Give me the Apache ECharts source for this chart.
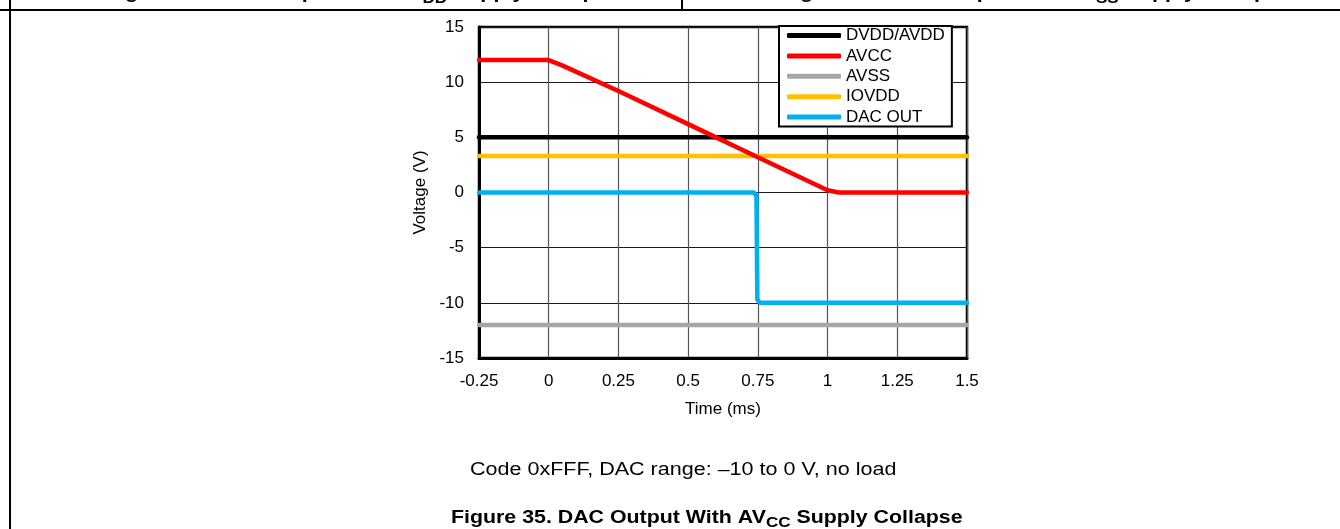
<!DOCTYPE html>
<html><head><meta charset="utf-8">
<script src="https://cdn.jsdelivr.net/npm/echarts@6/dist/echarts.min.js"></script>
<style>html,body{margin:0;padding:0;background:#fff;overflow:hidden}#c{width:1340px;height:529px}</style>
</head><body><div id="c"></div>
<script>
// ---- data ----
const seriesNames = ['DVDD/AVDD', 'AVCC', 'AVSS', 'IOVDD', 'DAC OUT'];
const seriesColors = ['#000000', '#ff0000', '#a6a6a6', '#ffc000', '#00b0f0'];
const dvddTime = [-0.25, 1.5];
const dvddVolt = [5, 5];
const avccTime = [-0.25, 0, 0.05, 0.25, 0.5, 0.75, 1.0, 1.04, 1.5];
const avccVolt = [12, 12, 11.5, 9.2, 6.2, 3.2, 0.2, 0, 0];
const avssTime = [-0.25, 1.5];
const avssVolt = [-12, -12];
const iovddTime = [-0.25, 1.5];
const iovddVolt = [3.3, 3.3];
const dacTime = [-0.25, 0.735, 0.745, 0.748, 0.758, 1.5];
const dacVolt = [0, 0, -0.3, -9.7, -10, -10];
const xTickLabels = ['-0.25', '0', '0.25', '0.5', '0.75', '1', '1.25', '1.5'];
const yTickLabels = ['-15', '-10', '-5', '0', '5', '10', '15'];
const xAxisTitle = 'Time (ms)';
const yAxisTitle = 'Voltage (V)';
const noteText = 'Code 0xFFF, DAC range: \u201310 to 0 V, no load';
const captionParts = ['Figure 35. DAC Output With AV', 'CC', ' Supply Collapse'];
const prevCaptionLeft = ['Figure 33. DAC Output With DV', 'DD', ' Supply Collapse'];
const prevCaptionRight = ['Figure 34. DAC Output With AV', 'SS', ' Supply Collapse'];

// ---- helpers ----
const FAM = 'Arial, "Liberation Sans", sans-serif';
const mctx = document.createElement('canvas').getContext('2d');
function tw(s, size, weight) { mctx.font = (weight || 'normal') + ' ' + size + 'px ' + FAM; return mctx.measureText(s).width; }
function txt(x, baseline, s, size, weight, sx) {
  return { type: 'text', x: x, y: baseline - 0.31 * size, scaleX: sx || 1, silent: true,
    style: { text: s, fontSize: size, fontWeight: weight || 'normal', fontFamily: FAM, fill: '#000', align: 'left', verticalAlign: 'middle' } };
}
function subCaption(x, baseline, parts, size, subSize, drop, sx) {
  const w0 = tw(parts[0], size, 'bold') * sx;
  const w1 = tw(parts[1], subSize, 'bold') * sx;
  return [
    txt(x, baseline, parts[0], size, 'bold', sx),
    txt(x + w0, baseline + drop, parts[1], subSize, 'bold', sx),
    txt(x + w0 + w1, baseline, parts[2], size, 'bold', sx)
  ];
}
function zipPts(t, v) { return t.map((x, i) => [x, v[i]]); }
const seriesData = [zipPts(dvddTime, dvddVolt), zipPts(avccTime, avccVolt), zipPts(avssTime, avssVolt), zipPts(iovddTime, iovddVolt), zipPts(dacTime, dacVolt)];
const xMin = -0.25, xMax = 1.5, xStep = 0.25;
const yMin = -15, yMax = 15, yStep = 5;

const chart = echarts.init(document.getElementById('c'), null, { renderer: 'canvas' });
const capScale = 1.22;
const graphics = [
  { type: 'line', silent: true, shape: { x1: 0, y1: 10, x2: 1340, y2: 10 }, style: { stroke: '#000', lineWidth: 2 } },
  { type: 'line', silent: true, shape: { x1: 10, y1: 0, x2: 10, y2: 529 }, style: { stroke: '#000', lineWidth: 2 } },
  { type: 'line', silent: true, shape: { x1: 682, y1: 0, x2: 682, y2: 10 }, style: { stroke: '#000', lineWidth: 2 } },
  txt(470, 476, noteText, 17.5, 'normal', 1.23)
].concat(subCaption(451, 523.5, captionParts, 17.5, 14, 4, capScale))
 .concat(subCaption(106, -1, prevCaptionLeft, 17.5, 14, 4, capScale))
 .concat(subCaption(781, -1, prevCaptionRight, 17.5, 14, 4, capScale));

chart.setOption({
  animation: false,
  backgroundColor: '#fff',
  grid: { left: 479, top: 27, width: 488, height: 331, show: true, borderColor: '#000', borderWidth: 2.5, backgroundColor: 'transparent' },
  legend: {
    data: seriesNames, orient: 'vertical', left: 779, top: 26,
    padding: [1, 7, 1, 8], itemWidth: 54, itemHeight: 5, itemGap: 3.4,
    icon: 'roundRect',
    borderColor: '#000', borderWidth: 2, backgroundColor: '#fff',
    textStyle: { fontSize: 17, color: '#000', fontFamily: FAM },
    z: 10
  },
  xAxis: {
    type: 'value', min: xMin, max: xMax, interval: xStep,
    name: xAxisTitle, nameLocation: 'middle', nameGap: 43,
    nameTextStyle: { fontSize: 17, color: '#000', fontFamily: FAM },
    axisLine: { onZero: false, lineStyle: { color: '#000', width: 3 } },
    axisTick: { show: false },
    axisLabel: { margin: 15, fontSize: 17, color: '#000', fontFamily: FAM,
      formatter: v => xTickLabels[Math.round((v - xMin) / xStep)] },
    splitLine: { show: true, lineStyle: { color: '#555', width: 1.2 } }
  },
  yAxis: {
    type: 'value', min: yMin, max: yMax, interval: yStep,
    name: yAxisTitle, nameLocation: 'middle', nameGap: 50, nameRotate: 90,
    nameTextStyle: { fontSize: 17, color: '#000', fontFamily: FAM },
    axisLine: { onZero: false, lineStyle: { color: '#000', width: 3 } },
    axisTick: { show: false },
    axisLabel: { margin: 15, fontSize: 17, color: '#000', fontFamily: FAM,
      formatter: v => yTickLabels[Math.round((v - yMin) / yStep)] },
    splitLine: { show: true, lineStyle: { color: '#1a1a1a', width: 1 } }
  },
  series: seriesNames.map((n, i) => ({
    name: n, type: 'line', data: seriesData[i], showSymbol: false, symbol: 'none',
    color: seriesColors[i], z: i === 1 ? 4 : 3,
    lineStyle: { width: 4.5, color: seriesColors[i], cap: 'round', join: 'round' }
  })),
  graphic: graphics
});
</script>
</body></html>
